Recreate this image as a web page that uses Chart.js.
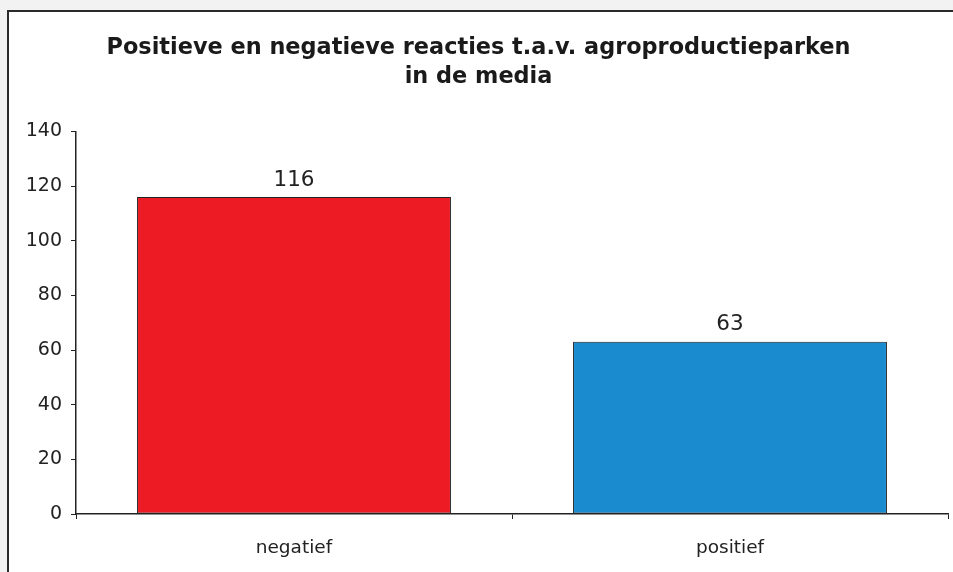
<!DOCTYPE html>
<html>
<head>
<meta charset="utf-8">
<script src="https://cdn.jsdelivr.net/npm/chart.js@4/dist/chart.umd.min.js"></script>
<style>
  html, body { margin: 0; padding: 0; background: #f2f2f2; }
  body { width: 953px; height: 572px; overflow: hidden; position: relative; }
  #frame {
    position: absolute; left: 7px; top: 10px;
    width: 946px; height: 562px;
    background: #fff;
    border-left: 2px solid #2a2a2a;
    border-top: 2px solid #2a2a2a;
  }
  #wrap { position: absolute; left: 0; top: 0; width: 944px; height: 560px; }
</style>
</head>
<body>
<div id="frame"><div id="wrap"><canvas id="c"></canvas></div></div>
<script>
/* ── data ─────────────────────────────────────────────────────────────── */
const CATEGORIES = ['negatief', 'positief'];
const VALUES     = [116, 63];
const BAR_COLORS = ['#ED1C24', '#1B8BD0'];
const TITLE      = ['Positieve en negatieve reacties t.a.v. agroproductieparken', 'in de media'];
const Y_MIN = 0, Y_MAX = 140, Y_STEP = 20;

const FONT = "'DejaVu Sans', Verdana, sans-serif";
const INK  = '#222';

/* ── valueLabels — draws the number above each bar ─────────────────────── */
const valueLabels = {
  id: 'valueLabels',
  afterDatasetsDraw(chart) {
    const ctx = chart.ctx;
    const meta = chart.getDatasetMeta(0);
    ctx.save();
    ctx.font = '21.5px ' + FONT;
    ctx.fillStyle = INK;
    ctx.textAlign = 'center';
    ctx.textBaseline = 'middle';
    meta.data.forEach((bar, i) => {
      ctx.fillText(String(VALUES[i]), bar.x, bar.y - 17);
    });
    ctx.restore();
  }
};

new Chart(document.getElementById('c'), {
  type: 'bar',
  data: {
    labels: CATEGORIES,
    datasets: [{
      data: VALUES,
      backgroundColor: BAR_COLORS,
      borderColor: INK,
      borderWidth: 1,
      borderSkipped: false,
      barPercentage: 0.72,
      categoryPercentage: 1
    }]
  },
  options: {
    responsive: true,
    maintainAspectRatio: false,
    animation: false,
    layout: { padding: { left: 0, right: 5, bottom: 0, top: 0 } },
    plugins: {
      legend: { display: false },
      tooltip: { enabled: false },
      title: {
        display: true,
        text: TITLE,
        color: '#1a1a1a',
        font: { family: FONT, size: 22.4, weight: 'bold', lineHeight: 1.28 },
        padding: { top: 22, bottom: 40 }
      }
    },
    scales: {
      x: {
        grid: { display: true, drawOnChartArea: false, drawTicks: true, tickLength: 5, color: INK, offset: true },
        border: { display: true, color: INK, width: 1.5 },
        ticks: { color: INK, font: { family: FONT, size: 18.5 }, padding: 18 },
        afterFit: s => { s.height = 58; }
      },
      y: {
        min: Y_MIN,
        max: Y_MAX,
        grid: { display: true, drawOnChartArea: false, drawTicks: true, tickLength: 5, color: INK },
        border: { display: true, color: INK, width: 1.5 },
        ticks: { stepSize: Y_STEP, color: INK, font: { family: FONT, size: 19 }, padding: 9 },
        afterFit: s => { s.width = 67; }
      }
    }
  },
  plugins: [valueLabels]
});
</script>
</body>
</html>
